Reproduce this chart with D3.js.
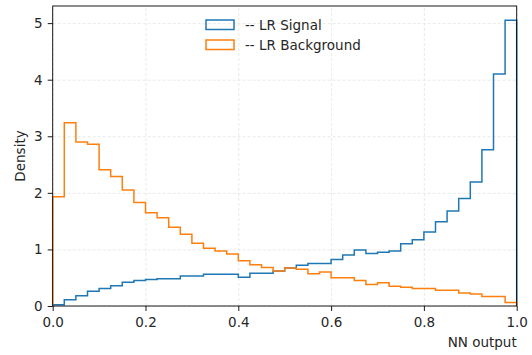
<!DOCTYPE html>
<html>
<head>
<meta charset="utf-8">
<script src="https://cdn.jsdelivr.net/npm/d3@7"></script>
<style>
    body { margin: 0; background: #fff; }
    text { font-family: "DejaVu Sans", sans-serif; fill: #262626; }
    .grid line { stroke: #e3e3e3; stroke-dasharray: 3,2; stroke-width: 0.8; }
    .grid .domain { display: none; }
</style>
</head>
<body>
<div id="container"></div>
<script>
// 40 bins over [0, 1], density values
const binEdges = d3.range(41).map(i => i / 40);
const signal = [0.02, 0.11, 0.18, 0.26, 0.31, 0.36, 0.42, 0.45, 0.47, 0.48,
    0.48, 0.53, 0.53, 0.56, 0.56, 0.56, 0.51, 0.58, 0.58, 0.62,
    0.67, 0.72, 0.75, 0.75, 0.82, 0.90, 0.99, 0.93, 0.95, 0.97,
    1.10, 1.17, 1.31, 1.49, 1.68, 1.90, 2.19, 2.76, 4.10, 5.05];
const background = [1.93, 3.24, 2.90, 2.86, 2.41, 2.29, 2.05, 1.83, 1.65, 1.56,
    1.39, 1.27, 1.11, 1.02, 0.97, 0.92, 0.80, 0.73, 0.68, 0.62,
    0.67, 0.65, 0.57, 0.60, 0.50, 0.50, 0.45, 0.38, 0.41, 0.35,
    0.33, 0.31, 0.31, 0.28, 0.28, 0.23, 0.21, 0.17, 0.17, 0.06];
const seriesNames = ['-- LR Signal', '-- LR Background'];
const colors = ['#1f77b4', '#ff7f0e'];
const xTicks = [0, 0.2, 0.4, 0.6, 0.8, 1.0];
const yTicks = [0, 1, 2, 3, 4, 5];

const W = 532, H = 355;
const plotLeft = 52.7, plotRight = 516.7, plotTop = 6, plotBottom = 306;

const svg = d3.select('#container').append('svg')
    .attr('width', W)
    .attr('height', H);

const x = d3.scaleLinear().domain([0, 1]).range([plotLeft, plotRight]);
const yMax = Math.max(...signal, ...background) * 1.05;
const y = d3.scaleLinear().domain([0, yMax]).range([plotBottom, plotTop]);

// grid
svg.append('g')
    .attr('class', 'grid')
    .attr('transform', `translate(0, ${plotBottom})`)
    .call(d3.axisBottom(x).tickValues(xTicks).tickSize(-(plotBottom - plotTop)).tickFormat(''));
svg.append('g')
    .attr('class', 'grid')
    .attr('transform', `translate(${plotLeft}, 0)`)
    .call(d3.axisLeft(y).tickValues(yTicks).tickSize(-(plotRight - plotLeft)).tickFormat(''));

// step outlines, like histtype='step'
const stepPath = (vals) => {
    const pts = [[x(binEdges[0]), y(0)]];
    vals.forEach((v, i) => {
        pts.push([x(binEdges[i]), y(v)]);
        pts.push([x(binEdges[i + 1]), y(v)]);
    });
    pts.push([x(binEdges[vals.length]), y(0)]);
    return d3.line()(pts);
};

[signal, background].forEach((vals, i) => {
    svg.append('path')
        .attr('d', stepPath(vals))
        .attr('fill', 'none')
        .attr('stroke', colors[i])
        .attr('stroke-width', 1.5)
        .attr('stroke-linejoin', 'miter');
});

// frame
svg.append('rect')
    .attr('x', plotLeft)
    .attr('y', plotTop)
    .attr('width', plotRight - plotLeft)
    .attr('height', plotBottom - plotTop)
    .attr('fill', 'none')
    .attr('stroke', '#000')
    .attr('stroke-width', 0.9);

// axes
const xAxis = svg.append('g')
    .attr('transform', `translate(0, ${plotBottom})`)
    .call(d3.axisBottom(x).tickValues(xTicks).tickSize(5).tickPadding(6).tickFormat(d3.format('.1f')));
const yAxis = svg.append('g')
    .attr('transform', `translate(${plotLeft}, 0)`)
    .call(d3.axisLeft(y).tickValues(yTicks).tickSize(5).tickPadding(5).tickFormat(d3.format('d')));
[xAxis, yAxis].forEach(a => {
    a.select('.domain').remove();
    a.selectAll('line').attr('stroke', '#000').attr('stroke-width', 0.9);
    a.selectAll('text')
        .attr('font-family', '"DejaVu Sans", sans-serif')
        .attr('font-size', 13.5)
        .attr('fill', '#262626');
});

// labels
svg.append('text')
    .attr('x', plotRight)
    .attr('y', 346.5)
    .attr('text-anchor', 'end')
    .attr('font-size', 13.5)
    .text('NN output');

svg.append('text')
    .attr('transform', `translate(25, ${(plotTop + plotBottom) / 2}) rotate(-90)`)
    .attr('text-anchor', 'middle')
    .attr('font-size', 13.5)
    .text('Density');

// legend
const legend = svg.selectAll('.legend')
    .data(seriesNames)
    .enter()
    .append('g')
    .attr('class', 'legend')
    .attr('transform', (d, i) => `translate(206, ${20 + i * 20})`);

legend.append('rect')
    .attr('width', 28)
    .attr('height', 9.5)
    .attr('fill', 'none')
    .attr('stroke', (d, i) => colors[i])
    .attr('stroke-width', 1.5);

legend.append('text')
    .attr('x', 39)
    .attr('y', 4.8)
    .attr('dy', '0.35em')
    .attr('font-size', 13.5)
    .text(d => d);
</script>
</body>
</html>
